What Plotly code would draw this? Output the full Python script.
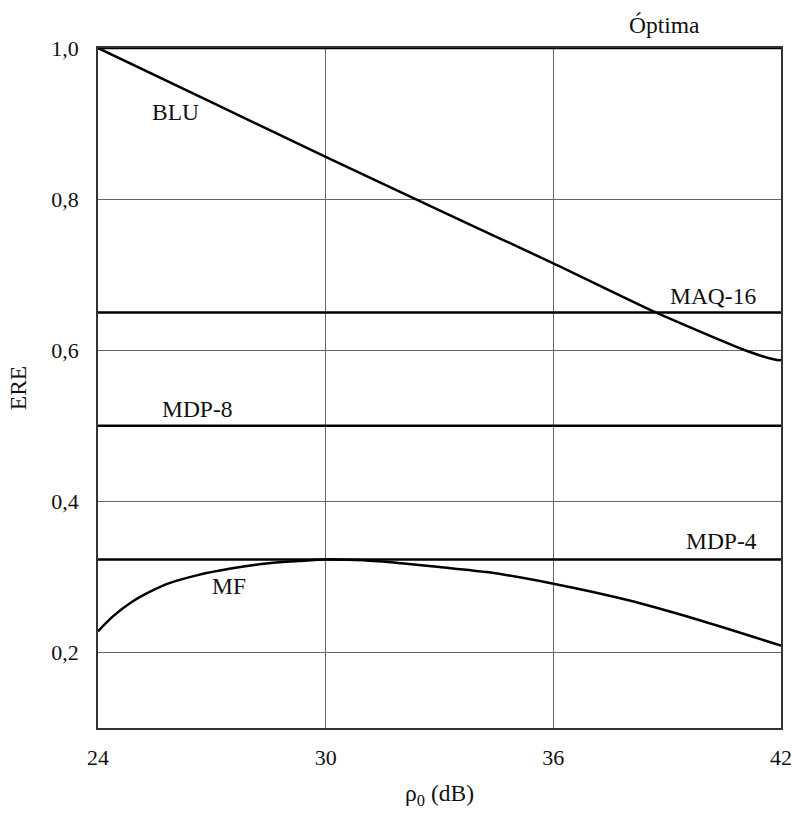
import plotly.graph_objects as go

# ---- data ----
x_range = [24, 42]
y_range = [0.1, 1.0]
level_names = ["Óptima", "MAQ-16", "MDP-8", "MDP-4"]
level_values = [1.0, 0.65, 0.5, 0.323]

blu_x = [24, 27, 30, 33, 36, 38.7, 41.0, 41.8, 42.0, 42.07, 42.03]
blu_y = [1.0, 0.928, 0.856, 0.785, 0.715, 0.65, 0.601, 0.588, 0.587, 0.591, 0.596]

mf_x = [24, 24.4, 24.9, 25.4, 25.9, 26.6, 27.5, 28.5, 29.3, 30, 31, 32, 33, 34.3, 36, 37.9, 39.9, 42]
mf_y = [0.228, 0.248, 0.267, 0.281, 0.292, 0.302, 0.311, 0.318, 0.321, 0.323, 0.322, 0.318, 0.313, 0.306, 0.291, 0.270, 0.242, 0.209]

y_tickvals = [0.2, 0.4, 0.6, 0.8, 1.0]
y_ticktext = ["0,2", "0,4", "0,6", "0,8", "1,0"]
x_tickvals = [24, 30, 36, 42]
x_ticktext = ["24", "30", "36", "42"]

# label positions (data coords)
label_text = ["Óptima", "BLU", "MAQ-16", "MDP-8", "MDP-4", "MF"]
label_x = [38.94, 26.03, 40.21, 26.61, 40.44, 27.45]
label_y = [1.030, 0.915, 0.6715, 0.522, 0.347, 0.2874]

FONT = "Liberation Serif, Times New Roman, serif"
FS = 22
FS_LABEL = 23.5

fig = go.Figure()

for name, val in zip(level_names, level_values):
    fig.add_trace(go.Scatter(x=x_range, y=[val, val], mode="lines",
                             line=dict(color="black", width=2.5),
                             name=name, showlegend=False, cliponaxis=False))

fig.add_trace(go.Scatter(x=blu_x, y=blu_y, mode="lines",
                         line=dict(color="black", width=2.5, shape="spline", smoothing=0.6),
                         name="BLU", showlegend=False, cliponaxis=False))
fig.add_trace(go.Scatter(x=mf_x, y=mf_y, mode="lines",
                         line=dict(color="black", width=2.5, shape="spline", smoothing=0.8),
                         name="MF", showlegend=False, cliponaxis=False))

for t, lx, ly in zip(label_text, label_x, label_y):
    fig.add_annotation(x=lx, xref="x", y=(ly - y_range[0]) / (y_range[1] - y_range[0]), yref="paper",
                       xanchor="center", yanchor="middle",
                       text=t, showarrow=False,
                       font=dict(family=FONT, size=FS_LABEL, color="#111"))

fig.update_layout(
    width=792, height=813,
    margin=dict(l=98, r=11, t=48, b=85),
    plot_bgcolor="white", paper_bgcolor="white",
    font=dict(family=FONT, size=FS, color="#111"),
    showlegend=False,
)
fig.update_xaxes(range=x_range, tickvals=x_tickvals, ticktext=x_ticktext,
                 showgrid=True, gridcolor="#666", gridwidth=1,
                 showline=True, linecolor="#333", linewidth=1.5, mirror=True,
                 ticks="", ticklabelstandoff=9, zeroline=False, automargin=False,
                 title=dict(text="ρ<sub>0</sub> (dB)", font=dict(family=FONT, size=FS_LABEL), standoff=15))
fig.update_yaxes(range=y_range, tickvals=y_tickvals, ticktext=y_ticktext,
                 showgrid=True, gridcolor="#666", gridwidth=1,
                 showline=True, linecolor="#333", linewidth=1.5, mirror=True,
                 ticks="", ticklabelstandoff=13, zeroline=False, automargin=False,
                 title=dict(text="ERE", font=dict(family=FONT, size=FS_LABEL), standoff=18))

fig.write_html("out.html",
               config={"displayModeBar": False},
               post_script="document.body.style.margin='0';document.documentElement.style.overflow='hidden';document.body.style.overflow='hidden';")
